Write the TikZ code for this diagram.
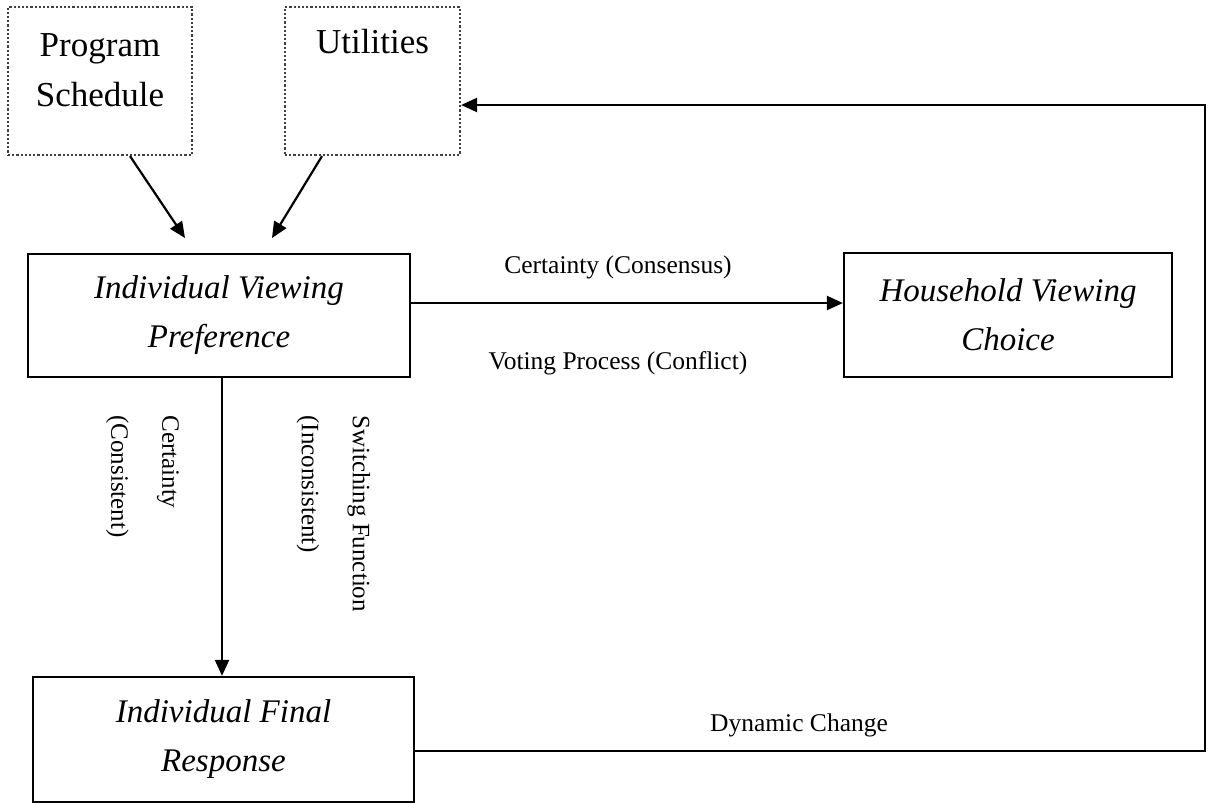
\documentclass[tikz,border=0pt]{standalone}
\usepackage{fontspec}
\setmainfont{Liberation Serif}
\usetikzlibrary{arrows.meta}
\begin{document}
\begin{tikzpicture}[x=0.5pt,y=-0.5pt,
  solidbox/.style={draw, line width=1.1pt, inner sep=0pt, align=center,
    font=\fontsize{16.5}{24.5}\selectfont\itshape},
  dotbox/.style={draw=black!75, line width=1.1pt, densely dotted, inner sep=0pt},
  boxtext/.style={align=center, inner sep=0pt, font=\fontsize{17.5}{25}\selectfont},
  lbl/.style={inner sep=0pt, font=\fontsize{12.75}{25}\selectfont},
  vlbl/.style={inner sep=0pt, align=left, rotate=-90, anchor=west, font=\fontsize{12.5}{25.5}\selectfont},
  arr/.style={line width=1.1pt, -{Triangle[length=8pt,width=7pt]}}]
\useasboundingbox (0,0) rectangle (1210,803);
% boxes
\node[dotbox, minimum width=92pt, minimum height=74pt] (ps) at (100,81) {};
\node[boxtext] (pstext) at (100,70) {Program\\Schedule};
\node[dotbox, minimum width=87.5pt, minimum height=74pt] (ut) at (372.5,81) {};
\node[boxtext] (uttext) at (372.5,42) {Utilities};
\node[solidbox, minimum width=191pt, minimum height=61.5pt] (ivp) at (219,315.5) {Individual Viewing\\Preference};
\node[solidbox, minimum width=164pt, minimum height=62pt] (hvc) at (1008,315) {Household Viewing\\Choice};
\node[solidbox, minimum width=190.5pt, minimum height=62.5pt] (ifr) at (223.5,739.5) {Individual Final\\Response};
% connectors
\coordinate (t1) at (185,238);
\coordinate (t2) at (272,238);
\draw[arr] ([xshift=15pt]ps.south) -- (t1);
\draw[arr] ([xshift=-25.25pt]ut.south) -- (t2);
\draw[arr] ([yshift=6.25pt]ivp.east) -- ([yshift=6.25pt]ivp.east -| hvc.west);
\draw[arr] ([xshift=1.5pt]ivp.south) -- ([xshift=1.5pt]ivp.south |- ifr.north);
\coordinate (fb) at (1205,105);
\draw[arr] ([yshift=-5.75pt]ifr.east) -| (fb) -- ([yshift=-12pt]ut.east);
% labels
\node[lbl] (l1) at (618,267) {Certainty (Consensus)};
\node[lbl] (l2) at (618,363) {Voting Process (Conflict)};
\node[lbl] (l3) at (799,725) {Dynamic Change};
\node[vlbl] (l4) at (142.5,415) {Certainty\\(Consistent)};
\node[vlbl] (l5) at (333.5,415) {Switching Function\\(Inconsistent)};
\end{tikzpicture}
\end{document}
